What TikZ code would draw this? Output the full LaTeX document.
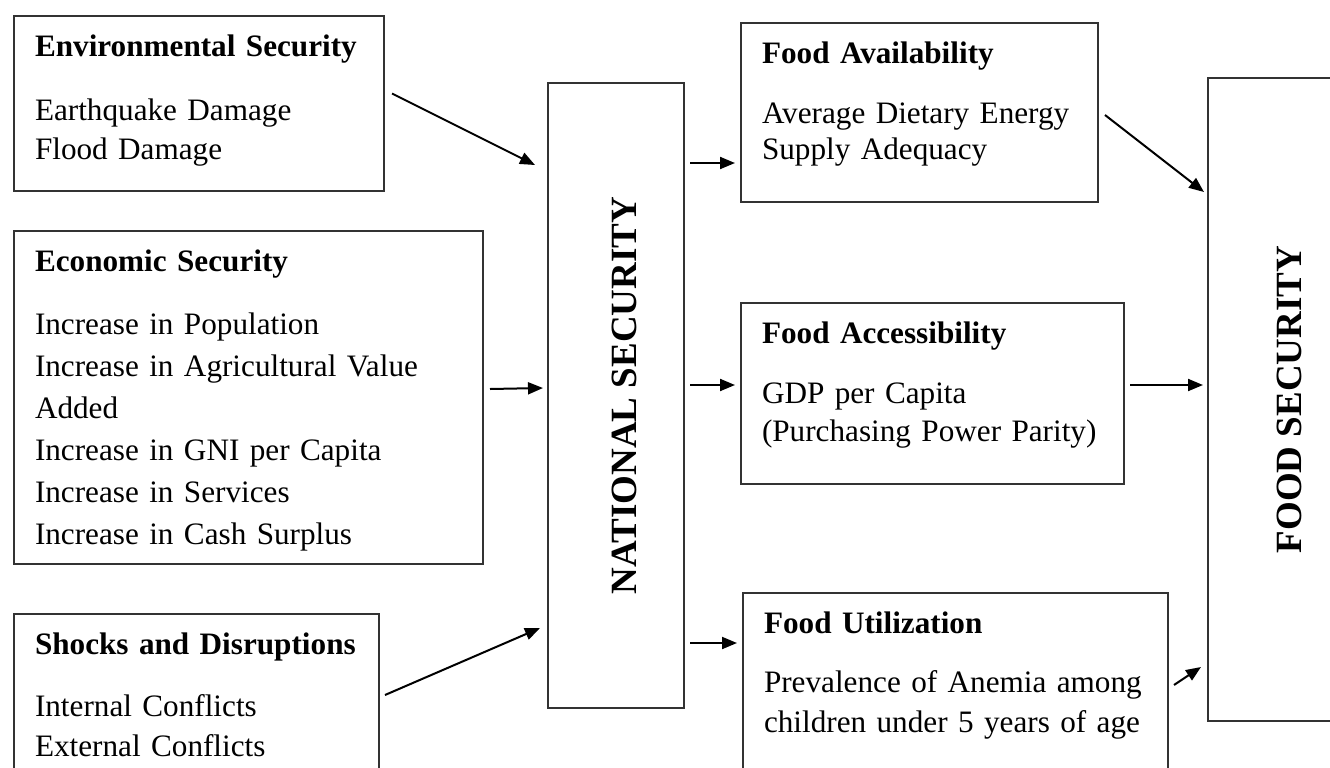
\documentclass[tikz,border=0pt]{standalone}
\usepackage{fontspec}
\setmainfont{Liberation Serif}
\usetikzlibrary{arrows.meta}

% one unit = one pixel of the final picture, y runs downwards
\tikzset{
  blockbox/.style={draw=black!80, line width=1pt, anchor=north west,
    inner xsep=10.5pt, inner ysep=0pt, align=left, text height=20pt,
    font=\fontsize{15.6}{20}\selectfont},
  pillar/.style={draw=black!80, line width=1pt, anchor=north west,
    inner sep=0pt, font=\fontsize{18.5}{22}\selectfont\bfseries},
  flow/.style={-{Triangle[length=7.5pt,width=6pt]}, line width=1pt},
}

\begin{document}
\begin{tikzpicture}[x=0.5pt,y=-0.5pt]
  \useasboundingbox (0,0) rectangle (1330,767);
  \clip (0,0) rectangle (1330,767);

  % drivers on the left
  \node[blockbox, text width=164pt, text depth=67.5pt,
        font=\fontsize{15.6}{19.5}\selectfont] (env) at (13,15)
    {\textbf{Environmental Security}\\[12.5pt]
     Earthquake Damage\\ Flood Damage};
  \node[blockbox, text width=213.5pt, text depth=146.5pt,
        font=\fontsize{15.6}{21}\selectfont] (econ) at (13,230)
    {\textbf{Economic Security}\\[10.5pt]
     Increase in Population\\ Increase in Agricultural Value\\ Added\\
     Increase in GNI per Capita\\ Increase in Services\\
     Increase in Cash Surplus};
  \node[blockbox, text width=161.5pt, text depth=80pt] (shocks) at (13,613)
    {\textbf{Shocks and Disruptions}\\[11pt]
     Internal Conflicts\\ External Conflicts};

  % middle column
  \node[pillar, minimum width=68pt, minimum height=312.5pt] (nat) at (547,82)
    {\hspace*{8pt}\rotatebox{90}{NATIONAL SECURITY}};

  % food security dimensions
  \node[blockbox, text width=157.5pt, text depth=69.5pt,
        font=\fontsize{15.6}{18}\selectfont] (avail) at (740,22)
    {\textbf{Food Availability}\\[12pt]
     Average Dietary Energy\\ Supply Adequacy};
  \node[blockbox, text width=170.5pt, text depth=70.5pt,
        font=\fontsize{15.6}{19}\selectfont] (access) at (740,302)
    {\textbf{Food Accessibility}\\[11pt]
     GDP per Capita\\ (Purchasing Power Parity)};
  \node[blockbox, text width=191.5pt, text depth=80pt] (util) at (742,592)
    {\textbf{Food Utilization}\\[9.5pt]
     Prevalence of Anemia among\\ children under 5 years of age};

  \node[pillar, minimum width=81pt, minimum height=321.5pt] (fs) at (1207,77)
    {\rotatebox{90}{FOOD SECURITY}};

  % links
  \draw[flow] ([shift={(7,-10)}]env.east) -- ([shift={(-12,83)}]nat.north west);
  \draw[flow] ([shift={(6,-8.5)}]econ.east) -- ([shift={(-4,306)}]nat.north west);
  \draw[flow] ([shift={(5,82)}]shocks.north east) -- ([shift={(-7,-81)}]nat.south west);

  \draw[flow] ([shift={(5,81)}]nat.north east) -- ([shift={(-5,141)}]avail.north west);
  \draw[flow] ([shift={(5,303)}]nat.north east) -- ([shift={(-5,83)}]access.north west);
  \draw[flow] ([shift={(5,561)}]nat.north east) -- ([shift={(-5,51)}]util.north west);

  \draw[flow] ([shift={(6,93)}]avail.north east) -- ([shift={(-3,115)}]fs.north west);
  \draw[flow] ([shift={(5,83)}]access.north east) -- ([shift={(-4,308)}]fs.north west);
  \draw[flow] ([shift={(5,93)}]util.north east) -- ([shift={(-6,590)}]fs.north west);
\end{tikzpicture}
\end{document}
